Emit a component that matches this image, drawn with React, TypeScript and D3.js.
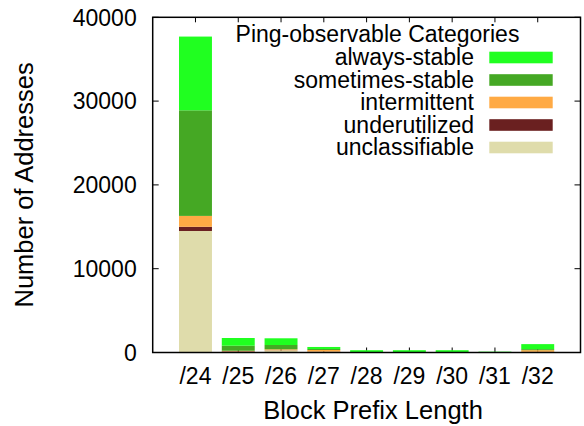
import React from "react";
import * as d3 from "d3";

const prefixes = ["/24", "/25", "/26", "/27", "/28", "/29", "/30", "/31", "/32"];
const unclassifiable = [14500, 0, 240, 80, 0, 0, 0, 0, 60];
const underutilized = [500, 130, 20, 20, 0, 0, 0, 0, 20];
const intermittent = [1300, 80, 120, 200, 0, 0, 0, 0, 200];
const sometimesStable = [12600, 600, 515, 120, 0, 0, 0, 0, 120];
const alwaysStable = [8800, 920, 800, 240, 275, 275, 275, 100, 600];

const categoryNames = ["unclassifiable", "underutilized", "intermittent", "sometimes-stable", "always-stable"];
const categoryColors = ["#dfdcab", "#6a2020", "#ffaa44", "#45a824", "#20ff20"];
const legendOrder = ["always-stable", "sometimes-stable", "intermittent", "underutilized", "unclassifiable"];
const yTicks = [0, 10000, 20000, 30000, 40000];

const W = 584;
const H = 426;
const FONT = "'Liberation Sans', Arial, Helvetica, sans-serif";
const FS = 23;
const TITLE_FS = 25.5;

export default function App() {
  const x = d3.scaleLinear().domain([-1, 9]).range([152.7, 580.5]);
  const y = d3.scaleLinear().domain([0, 40000]).range([352.5, 17.3]);
  const barW = (x(1) - x(0)) * 0.77;

  const rows = prefixes.map((p, i) => ({
    prefix: p,
    unclassifiable: unclassifiable[i],
    underutilized: underutilized[i],
    intermittent: intermittent[i],
    "sometimes-stable": sometimesStable[i],
    "always-stable": alwaysStable[i],
  }));
  const stack = d3.stack<any>().keys(categoryNames)(rows);
  const colorOf = d3.scaleOrdinal<string, string>().domain(categoryNames).range(categoryColors);

  const [x0, x1] = x.range();
  const [yb, yt] = y.range();
  const tickLen = 5;

  return (
    <svg width={W} height={H} style={{ display: "block", position: "absolute", left: 0, top: 0 }} fontFamily={FONT}>
      <rect width={W} height={H} fill="#fff" />
      {/* ticks */}
      {yTicks.map((t) => (
        <g key={"yt" + t}>
          <line x1={x0} x2={x0 + 6} y1={y(t)} y2={y(t)} stroke="#000" strokeWidth={1} />
          <line x1={x1} x2={x1 - 6} y1={y(t)} y2={y(t)} stroke="#000" strokeWidth={1} />
          <text x={136.7} y={y(t)} dy="0.36em" textAnchor="end" fontSize={FS} fill="#000">
            {t}
          </text>
        </g>
      ))}
      {prefixes.map((p, i) => (
        <g key={"xt" + p}>
          <line x1={x(i)} x2={x(i)} y1={yb} y2={yb - tickLen} stroke="#000" strokeWidth={1} />
          <line x1={x(i)} x2={x(i)} y1={yt} y2={yt + tickLen} stroke="#000" strokeWidth={1} />
          <text x={x(i)} y={384.3} textAnchor="middle" fontSize={FS} fill="#000">
            {p}
          </text>
        </g>
      ))}
      {/* bars */}
      {stack.map((s) => (
        <g key={s.key} fill={colorOf(s.key)}>
          {s.map((d, i) => {
            const h = y(d[0]) - y(d[1]);
            if (h <= 0) return null;
            return <rect key={i} x={x(i) - barW / 2} y={y(d[1])} width={barW} height={h} />;
          })}
        </g>
      ))}
      {/* frame */}
      <rect x={x0} y={yt} width={x1 - x0} height={yb - yt} fill="none" stroke="#000" strokeWidth={1.5} />
      {/* legend */}
      <text x={377.5} y={41.7} textAnchor="middle" fontSize={FS} fill="#000">
        Ping-observable Categories
      </text>
      {legendOrder.map((name, i) => {
        const by = 65 + i * 22.5;
        return (
          <g key={"lg" + name}>
            <text x={474} y={by} textAnchor="end" fontSize={FS} fill="#000">
              {name}
            </text>
            <rect x={489.3} y={by - 13.3} width={63.4} height={11.6} fill={colorOf(name)} />
          </g>
        );
      })}
      {/* axis titles */}
      <text x={373} y={419} textAnchor="middle" fontSize={TITLE_FS} fill="#000">
        Block Prefix Length
      </text>
      <text transform={`translate(33.3,${(yb + yt) / 2}) rotate(-90)`} textAnchor="middle" fontSize={TITLE_FS} fill="#000">
        Number of Addresses
      </text>
    </svg>
  );
}
